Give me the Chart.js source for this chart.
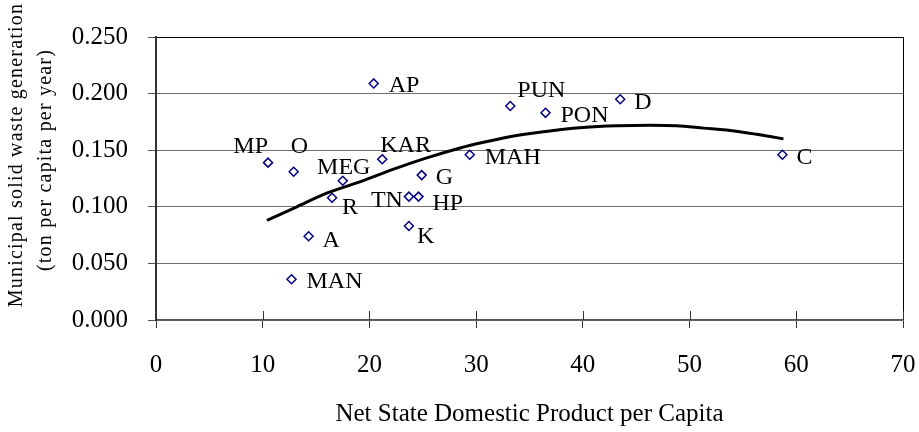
<!DOCTYPE html>
<html>
<head>
<meta charset="utf-8">
<script src="https://cdn.jsdelivr.net/npm/chart.js@4.4.1/dist/chart.umd.min.js"></script>
<style>
  html, body { margin: 0; padding: 0; background: #fff; }
  #wrap { width: 919px; height: 432px; position: relative; }
</style>
</head>
<body>
<div id="wrap"><canvas id="chart"></canvas></div>
<script>
/* ==================== DATA ==================== */
const states = ['MP', 'O', 'MEG', 'R', 'AP', 'KAR', 'G', 'TN', 'HP', 'A', 'MAN', 'K', 'MAH', 'PUN', 'PON', 'D', 'C'];
const nsdp   = [10.5, 12.9, 17.5, 16.5, 20.4, 21.2, 24.9, 23.7, 24.6, 14.3, 12.7, 23.7, 29.4, 33.2, 36.5, 43.5, 58.7];
const waste  = [0.139, 0.131, 0.123, 0.108, 0.209, 0.142, 0.128, 0.109, 0.109, 0.074, 0.036, 0.083, 0.146, 0.189, 0.183, 0.195, 0.146];

// trend curve
const trendX = [10.4, 13.2, 16.0, 19.1, 22.2, 25.3, 28.5, 30.7, 33.8, 36.9, 40.0, 43.2, 46.3, 48.8, 51.3, 53.8, 56.3, 58.8];
const trendY = [0.088, 0.100, 0.112, 0.122, 0.133, 0.143, 0.152, 0.157, 0.163, 0.167, 0.170, 0.1715, 0.172, 0.1715, 0.1695, 0.1675, 0.164, 0.160];

const yTitle = ['Municipal solid waste generation', '(ton per capita per year)'];
const xTitle = 'Net State Domestic Product per Capita';

// where each state name sits next to its marker: [align, dx, dy]
const labelPlace = {
    MP: ['right', 0, -10], O: ['left', -3, -19], MEG: ['center', 1, -7], R: ['left', 10, 16],
    AP: ['left', 15, 9], KAR: ['left', -2, -7], G: ['left', 14, 9], TN: ['right', -6, 10],
    HP: ['left', 14, 13], A: ['left', 14, 11], MAN: ['left', 15, 9], K: ['left', 8, 17],
    MAH: ['left', 15, 9], PUN: ['left', 7, -9], PON: ['left', 15, 9], D: ['left', 14, 10],
    C: ['left', 14, 9]
};

const FONT = '"Liberation Serif", "Times New Roman", serif';

/* ==================== PLUGINS ==================== */
const pointLabels = {
    id: 'pointLabels',
    afterDatasetsDraw(chart) {
        const ctx = chart.ctx;
        const meta = chart.getDatasetMeta(1);
        ctx.save();
        ctx.font = '24px ' + FONT;
        ctx.fillStyle = '#000';
        ctx.textBaseline = 'alphabetic';
        meta.data.forEach((pt, i) => {
            const p = labelPlace[states[i]];
            ctx.textAlign = p[0];
            ctx.fillText(states[i], pt.x + p[1], pt.y + p[2]);
        });
        ctx.restore();
    }
};

const frame = {
    id: 'frame',
    afterDraw(chart) {
        const ctx = chart.ctx;
        const a = chart.chartArea;
        const xs = chart.scales.x;
        ctx.save();
        // right border
        ctx.strokeStyle = '#000';
        ctx.lineWidth = 1;
        ctx.beginPath();
        ctx.moveTo(a.right + 0.5, a.top);
        ctx.lineTo(a.right + 0.5, a.bottom);
        ctx.stroke();
        // inner half of the x ticks
        ctx.strokeStyle = '#333';
        xs.ticks.forEach(t => {
            const px = Math.round(xs.getPixelForValue(t.value)) + 0.5;
            ctx.beginPath();
            ctx.moveTo(px, a.bottom - 9);
            ctx.lineTo(px, a.bottom);
            ctx.stroke();
        });
        // y axis title
        ctx.fillStyle = '#000';
        ctx.font = '20px ' + FONT;
        ctx.letterSpacing = '1.2px';
        ctx.textAlign = 'center';
        ctx.textBaseline = 'alphabetic';
        [[21.5, 155], [50.5, 160]].forEach((pos, i) => {
            ctx.save();
            ctx.translate(pos[0], pos[1]);
            ctx.rotate(-Math.PI / 2);
            ctx.fillText(yTitle[i], 0, 0);
            ctx.restore();
        });
        ctx.restore();
    }
};

/* ==================== CHART ==================== */
new Chart(document.getElementById('chart'), {
    type: 'scatter',
    data: {
        datasets: [{
            label: 'Trend',
            data: trendX.map((x, i) => ({ x: x, y: trendY[i] })),
            showLine: true,
            borderColor: '#000',
            borderWidth: 3,
            pointRadius: 0,
            tension: 0.3
        }, {
            label: 'States',
            data: nsdp.map((x, i) => ({ x: x, y: waste[i] })),
            pointStyle: 'rectRot',
            pointRadius: 4.5,
            pointBorderWidth: 1.5,
            borderColor: '#000080',
            backgroundColor: '#fff'
        }]
    },
    options: {
        responsive: true,
        maintainAspectRatio: false,
        animation: false,
        layout: { padding: { top: 37, right: 16, left: 0, bottom: 0 } },
        plugins: {
            legend: { display: false },
            tooltip: { enabled: false }
        },
        scales: {
            x: {
                min: 0,
                max: 70,
                afterFit(scale) {
                    scale.height = 112;
                    scale.paddingLeft = 0;
                    scale.paddingRight = 0;
                },
                ticks: {
                    stepSize: 10,
                    maxRotation: 0,
                    color: '#000',
                    padding: 22,
                    font: { family: FONT, size: 25 }
                },
                grid: {
                    drawOnChartArea: false,
                    tickLength: 8,
                    tickColor: '#333'
                },
                border: { color: '#555', width: 1.5 },
                title: {
                    display: true,
                    text: xTitle,
                    color: '#000',
                    padding: { top: 0, bottom: 3 },
                    font: { family: FONT, size: 25 }
                }
            },
            y: {
                min: 0,
                max: 0.25,
                afterFit(scale) {
                    scale.width = 156;
                    scale.paddingTop = 0;
                    scale.paddingBottom = 0;
                },
                ticks: {
                    stepSize: 0.05,
                    color: '#000',
                    padding: 20,
                    font: { family: FONT, size: 25 },
                    callback: v => v.toFixed(3)
                },
                grid: {
                    color: ctx => (ctx.tick && ctx.tick.value === 0.25 ? '#000' : '#6e6e6e'),
                    tickLength: 8,
                    tickColor: '#555'
                },
                border: { color: '#333', width: 2 }
            }
        }
    },
    plugins: [pointLabels, frame]
});
</script>
</body>
</html>
